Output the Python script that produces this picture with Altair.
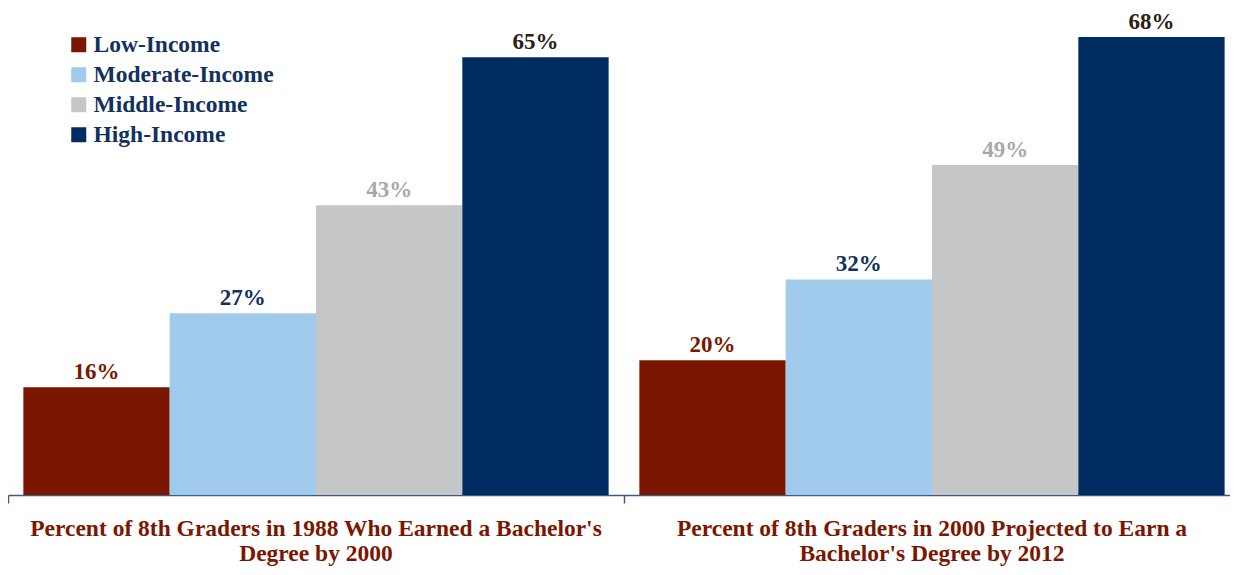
import altair as alt
import pandas as pd

groups = [
    "Percent of 8th Graders in 1988 Who Earned a Bachelor's|Degree by 2000",
    "Percent of 8th Graders in 2000 Projected to Earn a|Bachelor's Degree by 2012",
]
incomes = ["Low-Income", "Moderate-Income", "Middle-Income", "High-Income"]
values_1988 = [16, 27, 43, 65]
values_2000 = [20, 32, 49, 68]

bar_colors = ["#7B1700", "#A1CBEC", "#C5C6C8", "#012C61"]
label_colors = ["#7B1700", "#12315E", "#A7A9AC", "#2B2111"]

rows = []
for g, vals in zip(groups, [values_1988, values_2000]):
    for inc, v in zip(incomes, vals):
        rows.append({"group": g, "income": inc, "value": v, "label": f"{v}%"})
df = pd.DataFrame(rows)

FONT = "Liberation Serif"
FS = 23

base = alt.Chart(df).encode(
    x=alt.X(
        "group:N",
        sort=groups,
        scale=alt.Scale(paddingInner=0, paddingOuter=0, range=[0, 1232]),
        axis=alt.Axis(
            title=None,
            labelAngle=0,
            labelExpr="split(datum.label, '|')",
            labelFont=FONT,
            labelFontSize=23.5,
            labelFontWeight="bold",
            labelColor="#7B1700",
            labelLineHeight=25,
            labelPadding=13,
            labelBaseline="top",
            tickSize=8,
            tickColor="#3D5A8A",
            domainColor="#3D5A8A",
            domainWidth=1.5,
            tickWidth=1.5,
            bandPosition=0,
            labelLimit=1000,
        ),
    ),
    xOffset=alt.XOffset(
        "income:N", sort=incomes, scale=alt.Scale(paddingInner=0, paddingOuter=0.105)
    ),
    y=alt.Y("value:Q", scale=alt.Scale(domain=[0, 72.3]), axis=None),
)

bars = base.mark_bar().encode(
    color=alt.Color(
        "income:N",
        sort=incomes,
        scale=alt.Scale(domain=incomes, range=bar_colors),
        legend=alt.Legend(
            title=None,
            orient="none",
            legendX=59,
            legendY=25,
            symbolType="square",
            symbolSize=225,
            symbolStrokeWidth=0,
            labelFont=FONT,
            labelFontSize=23.5,
            labelFontWeight="bold",
            labelColor="#12315E",
            labelLimit=400,
            rowPadding=5,
            labelOffset=3,
        ),
    )
)

texts = base.mark_text(
    baseline="alphabetic", dy=-8, font=FONT, fontSize=FS, fontWeight="bold"
).encode(
    text="label:N",
    color=alt.Color(
        "income:N",
        sort=incomes,
        scale=alt.Scale(domain=incomes, range=label_colors),
        legend=None,
    ),
)

chart = (
    alt.layer(bars, texts)
    .resolve_scale(color="independent")
    .properties(
        width=1222,
        height=487,
        padding={"left": 0, "top": 0, "right": 0, "bottom": 72},
        autosize=alt.AutoSizeParams(type="none"),
    )
    .configure_view(stroke=None)
)

chart.save("out.html", embed_options={"renderer": "svg", "actions": False})
